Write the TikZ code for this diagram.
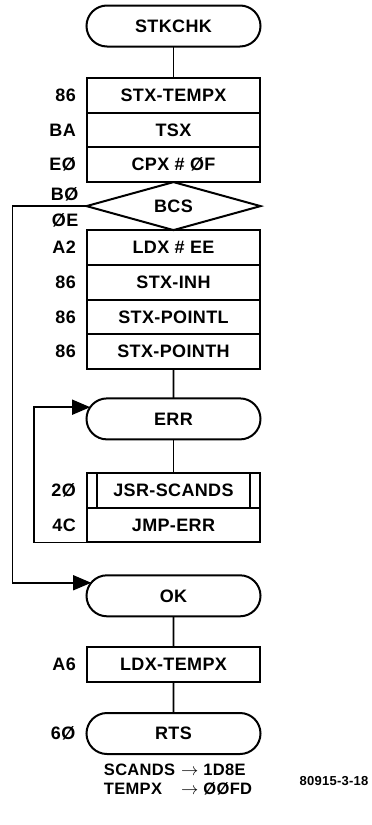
\documentclass[tikz,border=0pt]{standalone}
\usepackage{fontspec}
\setmainfont{Liberation Sans}[LetterSpace=2]
\usetikzlibrary{arrows.meta, positioning, shapes.geometric, shapes.misc}

\begin{document}
\begin{tikzpicture}[x=1pt, y=-1pt,
    font=\fontsize{18pt}{21pt}\selectfont\bfseries,
    term/.style={draw, line width=2pt, rounded rectangle, minimum width=174pt, minimum height=41pt, inner sep=0pt, outer sep=0pt},
    op/.style={draw, line width=2pt, minimum width=173pt, minimum height=34.7pt, inner sep=0pt, outer sep=0pt},
    cond/.style={draw, line width=2pt, diamond, aspect=3.6, minimum width=174pt, minimum height=48pt, inner sep=0pt, outer sep=0pt},
    hex/.style={inner sep=0pt},
    flow/.style={line width=1.6pt},
    arr/.style={line width=1.6pt, -{Triangle[length=18pt, width=15pt]}}
  ]
    \useasboundingbox (0,0) rectangle (372,825);

    % main column
    \node[term] (stkchk) at (173.5,26) {STKCHK};
    \node[op, below=31.5pt of stkchk] (tempx) {STX-TEMPX};
    \node[op, below=0pt of tempx] (tsx) {TSX};
    \node[op, below=0pt of tsx] (cpx) {CPX \# ØF};
    \node[cond, below=0pt of cpx] (bcs) {BCS};
    \node[op, below=0pt of bcs] (ldxee) {LDX \# EE};
    \node[op, below=0pt of ldxee] (inh) {STX-INH};
    \node[op, below=0pt of inh] (pointl) {STX-POINTL};
    \node[op, below=0pt of pointl] (pointh) {STX-POINTH};
    \node[term, below=29.5pt of pointh] (err) {ERR};
    \node[op, below=33.5pt of err] (jsr) {JSR-SCANDS};
    \node[op, below=0pt of jsr] (jmp) {JMP-ERR};
    \node[term, below=33pt of jmp] (ok) {OK};
    \node[op, below=31pt of ok] (ldx) {LDX-TEMPX};
    \node[term, below=31pt of ldx] (rts) {RTS};

    % opcodes
    \node[hex, left=11pt of tempx] {86};
    \node[hex, left=11pt of tsx] {BA};
    \node[hex, left=11pt of cpx] {EØ};
    \node[hex, anchor=east] (bo) at ([xshift=-8pt, yshift=12pt]bcs.west) {BØ};
    \node[hex, anchor=east] (oe) at ([xshift=-8pt, yshift=-14pt]bcs.west) {ØE};
    \node[hex, left=11pt of ldxee] {A2};
    \node[hex, left=11pt of inh] {86};
    \node[hex, left=11pt of pointl] {86};
    \node[hex, left=11pt of pointh] {86};
    \node[hex, left=11pt of jsr] {2Ø};
    \node[hex, left=11pt of jmp] {4C};
    \node[hex, left=11pt of ldx] {A6};
    \node[hex, left=11pt of rts] {6Ø};

    % subroutine call bars
    \draw[flow] ([xshift=10pt]jsr.north west) -- ([xshift=10pt]jsr.south west);
    \draw[flow] ([xshift=-10pt]jsr.north east) -- ([xshift=-10pt]jsr.south east);

    \draw[flow] (stkchk) -- (tempx);
    \draw[flow] (pointh) -- (err);
    \draw[flow] (err) -- (jsr);
    \draw[flow] (ok) -- (ldx);
    \draw[flow] (ldx) -- (rts);
    \draw[arr] (jmp.south west) -- ++(-53,0) |- (err.172);
    \draw[arr] (bcs.west) -- ++(-74,0) |- (ok.171);

    \node[font=\fontsize{16.5pt}{19pt}\selectfont\bfseries, inner sep=0pt] (addr) at (178,781)
      {\begin{tabular}{@{}l@{\hspace{6pt}}l@{}}SCANDS & $\rightarrow$ 1D8E\\ TEMPX & $\rightarrow$ ØØFD\end{tabular}};
    \node[font=\fontsize{13pt}{15pt}\selectfont\bfseries, inner sep=0pt] (figno) at (334,781) {80915-3-18};
  \end{tikzpicture}
\end{document}
